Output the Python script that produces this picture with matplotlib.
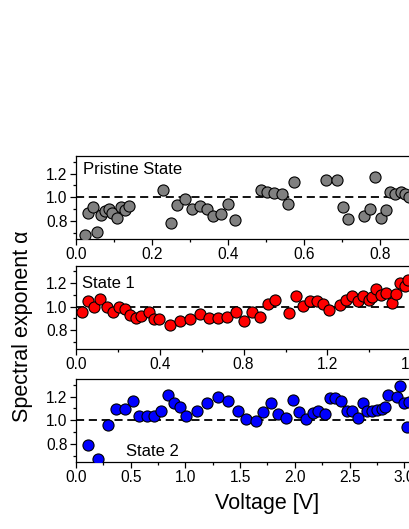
import matplotlib
matplotlib.use('Agg')
import matplotlib.pyplot as plt
from matplotlib.ticker import MultipleLocator, FormatStrFormatter

plt.rcParams['font.family'] = ['Liberation Sans', 'DejaVu Sans']

# --- data ---
pristine_v = [0.024, 0.032, 0.044, 0.056, 0.065, 0.075, 0.086, 0.094, 0.107, 0.118, 0.128, 0.140,
              0.230, 0.250, 0.266, 0.286, 0.305, 0.325, 0.344, 0.361, 0.382, 0.400, 0.419,
              0.486, 0.503, 0.522, 0.541, 0.559, 0.574,
              0.657, 0.686, 0.703, 0.717, 0.759, 0.774, 0.787, 0.802, 0.815,
              0.826, 0.839, 0.854, 0.865, 0.876]
pristine_a = [0.680, 0.870, 0.915, 0.708, 0.853, 0.887, 0.901, 0.864, 0.825, 0.915, 0.890, 0.925,
              1.060, 0.779, 0.938, 0.986, 0.898, 0.929, 0.901, 0.839, 0.859, 0.944, 0.810,
              1.057, 1.043, 1.037, 1.023, 0.944, 1.128,
              1.142, 1.142, 0.915, 0.816, 0.844, 0.901, 1.170, 0.825, 0.893,
              1.043, 1.023, 1.045, 1.029, 1.000]

state1_v = [0.029, 0.057, 0.087, 0.116, 0.148, 0.175, 0.203, 0.232, 0.259, 0.286, 0.312, 0.347,
            0.374, 0.398, 0.450, 0.498, 0.546, 0.590, 0.633, 0.678, 0.721, 0.764, 0.802, 0.840,
            0.878, 0.915, 0.951, 1.018, 1.052, 1.085, 1.116, 1.149, 1.179, 1.207, 1.262, 1.289,
            1.318, 1.344, 1.368, 1.400, 1.411, 1.432, 1.456, 1.480, 1.507, 1.528, 1.547, 1.570,
            1.586]
state1_a = [0.952, 1.049, 0.994, 1.063, 0.994, 0.957, 0.994, 0.977, 0.929, 0.901, 0.921, 0.952,
            0.893, 0.893, 0.844, 0.878, 0.893, 0.935, 0.907, 0.907, 0.915, 0.957, 0.878, 0.953,
            0.910, 1.021, 1.055, 0.947, 1.095, 1.006, 1.047, 1.047, 1.022, 0.976, 1.013, 1.058,
            1.094, 1.048, 1.089, 1.054, 1.083, 1.148, 1.097, 1.117, 1.031, 1.111, 1.204, 1.176,
            1.225]

state2_v = [0.113, 0.204, 0.295, 0.366, 0.448, 0.518, 0.579, 0.646, 0.716, 0.777, 0.838, 0.896,
            0.951, 1.005, 1.109, 1.195, 1.295, 1.387, 1.478, 1.554, 1.642, 1.712, 1.782, 1.849,
            1.920, 1.986, 2.041, 2.102, 2.162, 2.215, 2.273, 2.319, 2.365, 2.425, 2.480, 2.527,
            2.578, 2.619, 2.664, 2.706, 2.752, 2.794, 2.829, 2.850, 2.931, 2.962, 2.995, 3.022,
            3.041]
state2_a = [0.793, 0.674, 0.963, 1.099, 1.099, 1.165, 1.037, 1.034, 1.034, 1.080, 1.213, 1.142,
            1.108, 1.037, 1.080, 1.150, 1.199, 1.165, 1.077, 1.014, 0.994, 1.071, 1.142, 1.051,
            1.020, 1.170, 1.071, 1.006, 1.062, 1.080, 1.054, 1.187, 1.187, 1.167, 1.074, 1.074,
            1.017, 1.145, 1.082, 1.080, 1.085, 1.092, 1.110, 1.217, 1.196, 1.288, 1.142, 0.946,
            1.152]

labels = ['Pristine State', 'State 1', 'State 2']
colors = ['#808080', '#ff0000', '#0000ff']

W, H = 409, 529
fig = plt.figure(figsize=(W / 100, H / 100), dpi=100)

# panels run past the right edge, like the cropped original
left = 76
width_px = 361
panels = [
    (pristine_v, pristine_a, 239, 380.0, 0.2),
    (state1_v, state1_a, 348.5, 209.5, 0.4),
    (state2_v, state2_a, 462, 109.4, 0.5),
]
text_pos = [(83, 174.5), (82, 287.5), (126, 455.5)]

for i, (v, a, bot, scale, xmaj) in enumerate(panels):
    ax = fig.add_axes([left / W, 1 - bot / H, width_px / W, 83 / H])
    ax.axhline(1.0, color='black', ls=(0, (4.5, 2.6)), lw=1.3, zorder=1)
    ax.plot(v, a, 'o', ms=8.0, mfc=colors[i], mec='black', mew=0.8, ls='none', zorder=3)
    ax.set_xlim(0, width_px / scale)
    ax.set_ylim(0.645, 1.35)
    ax.xaxis.set_major_locator(MultipleLocator(xmaj))
    ax.xaxis.set_minor_locator(MultipleLocator(xmaj / 2))
    ax.yaxis.set_major_locator(MultipleLocator(0.2))
    ax.yaxis.set_minor_locator(MultipleLocator(0.1))
    ax.xaxis.set_major_formatter(FormatStrFormatter('%.1f'))
    ax.yaxis.set_major_formatter(FormatStrFormatter('%.1f'))
    ax.tick_params(which='major', direction='out', length=4.5, width=0.9, labelsize=11.2, pad=1.5)
    ax.tick_params(which='minor', direction='out', length=2.5, width=0.9)
    for s in ax.spines.values():
        s.set_linewidth(0.9)
    tx, ty = text_pos[i]
    fig.text(tx / W, 1 - ty / H, labels[i], fontsize=12, ha='left', va='baseline')

fig.text(23 / W, 1 - 326 / H, 'Spectral exponent α', rotation=90, fontsize=15.5,
         ha='center', va='center')
fig.text(267 / W, 1 - 503 / H, 'Voltage [V]', fontsize=15.5, ha='center', va='center')

fig.savefig('out.png', dpi=100)
